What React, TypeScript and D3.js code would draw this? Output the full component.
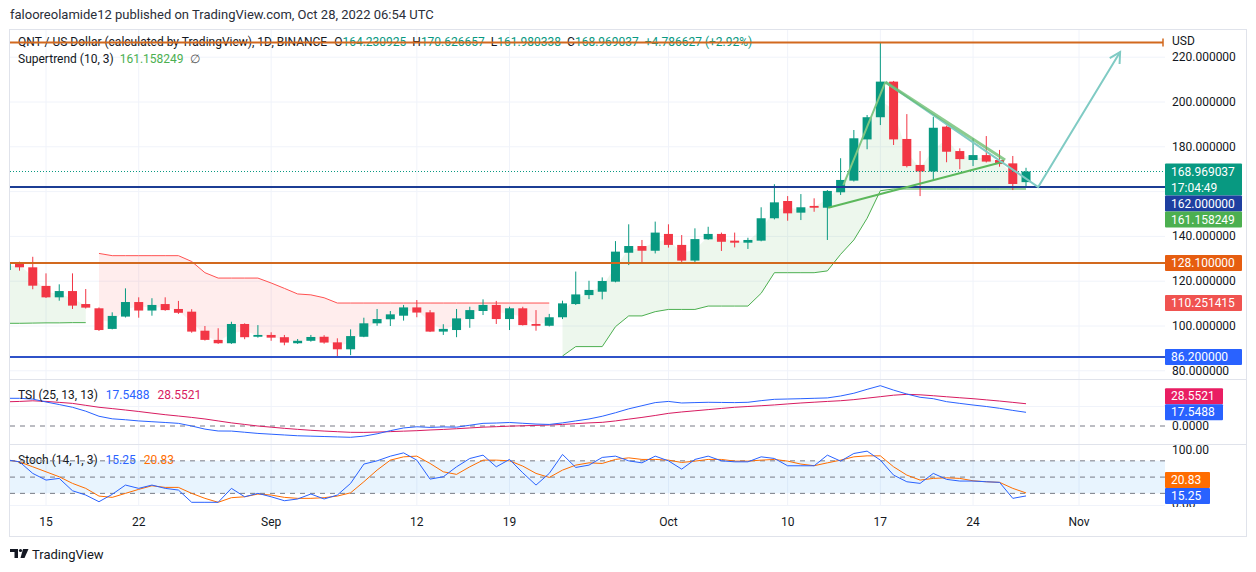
import React from "react";
import * as d3 from "d3";

// ---------- DATA ----------
const firstDay = "2022-08-12";
const lastDay = "2022-10-28";

const opens = [125, 128, 126.2, 117.9, 112.8, 115.6, 109.8, 107.9, 98.7, 104.2, 110.7, 106.9, 109.8, 107.6, 106.4, 97.9, 93.8, 92.3, 100.9, 95.2,
  96, 95, 92.3, 93.4, 95.2, 92.7, 89.6, 95.2, 101.2, 103, 104.6, 108.3, 106.1, 97.5, 98.2, 103.1, 106.7, 109.4, 103.1, 107.9, 100.9, 100.1, 103.9, 109.8, 113.8, 115.3, 119.8, 132.7, 135.7, 133.6,
  141.1, 136.2, 129.2, 138.7, 141.1, 138.1, 137.2, 138.1, 148.1, 155.8, 150.6, 153.6, 152.8, 159.7, 164.9, 183.3, 193.2, 209.1, 183.5, 171.9, 169, 189, 178.1, 174.1, 176.3, 174.1, 172.6, 164.230925];
const highs = [128.5, 128.7, 130.9, 123.5, 118.6, 123.5, 116.5, 108.3, 106.1, 116.8, 112.8, 112.4, 112.8, 111.2, 107.5, 100, 99, 101.9, 101.2, 100.4,
  97.2, 96, 94.2, 96, 95.9, 94.5, 98.5, 103.7, 107.6, 106.7, 109.4, 111.6, 107.1, 100.8, 107.6, 108.6, 111.9, 111.2, 108.6, 108.6, 107.1, 105.4, 111.3, 124.3, 120.2, 121.7, 137.9, 145.4, 138.4, 146.6,
  145.4, 140.6, 143.6, 144.3, 141.7, 141.7, 139.4, 153, 163.3, 158, 158.9, 157, 160.7, 174.9, 187.5, 194.2, 226.5, 209.4, 194.6, 178.1, 193.4, 189.5, 179.3, 183.8, 184.8, 178.6, 175.9, 170.626657];
const lows = [124, 124.7, 116.4, 112.5, 111.3, 107.6, 107.8, 97.8, 98.5, 103.8, 103.7, 104.6, 106.8, 105.4, 97, 93.5, 92, 92, 94.1, 94.8,
  93.4, 91.4, 92, 93, 92.1, 86.6, 87, 95, 100.1, 100, 102.4, 103.9, 97.3, 96, 95, 99.2, 104.9, 100.9, 98.2, 100.2, 97.9, 99.8, 103.1, 109.4, 112, 111.9, 119.5, 127.2, 128, 132.4,
  135, 127.7, 128, 138.5, 133.5, 135.1, 134.4, 137.8, 147.6, 147, 147.3, 151, 138.4, 158.5, 164.5, 178.9, 189.7, 180.8, 170.8, 158, 164.9, 173.1, 170, 171.4, 173, 171.1, 160.7, 161.980338];
const closes = [128, 126.2, 118, 112.8, 115.6, 109.1, 108.2, 98.2, 104.5, 110.7, 106.9, 109.4, 107.1, 105.9, 97.5, 93.8, 92.3, 100.9, 95, 96,
  94.8, 92.6, 93.4, 95.1, 92.6, 89.6, 95.5, 101.2, 103.1, 105.2, 108.3, 106, 97.5, 98.7, 103.4, 107.1, 109.4, 103.1, 107.9, 100.4, 100.1, 103.9, 110.1, 114.1, 116.1, 120.1, 133.2, 135.7, 133.6, 141.7,
  136.2, 129.2, 138.8, 141.1, 137.6, 137.2, 138.4, 148.1, 155.2, 150.3, 153, 152.8, 160.3, 165.2, 183.8, 193.2, 209.1, 183.3, 171.4, 169, 188.5, 177.8, 174.5, 176.3, 173.4, 172.3, 163.4, 168.969037];
const dayChange = 4.786627;
const dayChangePct = 2.92;

const N = null;
const supertrendUp = [101.2, 101.2, 101.3, 101.4, 101.4, 101.5, 101.5, N, N, N, N, N, N, N, N, N, N, N, N, N,
  N, N, N, N, N, N, N, N, N, N, N, N, N, N, N, N, N, N, N, N, N, N, 86.6, 90.8, 90.8, 90.8, 99.7, 104.5, 104.5, 106.4,
  107.4, 107.4, 107.4, 108.9, 108.9, 108.9, 108.9, 114.6, 123.8, 123.8, 123.8, 123.8, 124.6, 132, 138.4, 148.1, 160.4, 161.158249, 161.158249, 161.158249, 161.158249, 161.158249, 161.158249, 161.158249, 161.158249, 161.158249, 161.158249, 161.158249];
const supertrendDown = [N, N, N, N, N, N, N, 132.4, 131.4, 131.4, 131.4, 131.4, 131.4, 131.4, 128.8, 123.8, 121.4, 121.4, 121.4, 121.4,
  119.2, 116.8, 114.3, 113.9, 112.6, 110.251415, 110.251415, 110.251415, 110.251415, 110.251415, 110.251415, 110.251415, 110.251415, 110.251415, 110.251415, 110.251415, 110.251415, 110.251415, 110.251415, 110.251415, 110.251415, 110.251415, N, N, N, N, N, N, N, N,
  N, N, N, N, N, N, N, N, N, N, N, N, N, N, N, N, N, N, N, N, N, N, N, N, N, N, N, N];

const tsiLine = [35.5, 35.5, 34.5, 30.8, 27.5, 24, 19, 12.5, 9.2, 8, 6.5, 5.5, 4.5, 3.4, 0, -4, -6.4, -6.5, -8, -9.5,
  -10.5, -11.5, -12.5, -13, -13.5, -14, -14.5, -13, -10, -6, -2.5, -1, -1.8, -1.2, -1.5, 1, 3.4, 3.8, 4.5, 3.5, 2.5, 2, 4, 6.5, 9, 12.5, 17, 22, 26, 30,
  31.5, 29.5, 30, 30.4, 30.2, 30, 30.4, 32.5, 34.2, 34.6, 35, 35.5, 36, 38.5, 42, 47, 51.7, 46, 41, 36.8, 35, 31.2, 29, 26.9, 25, 22.7, 20, 17.5488];
const tsiSignal = [31, 31.5, 32.3, 31.5, 30.3, 29, 26.5, 24, 22.3, 20.5, 18.6, 16.5, 14.5, 12.8, 11, 9, 6.5, 4, 2, 0,
  -1.5, -3, -4.3, -5.5, -6.5, -7.3, -8.1, -8.2, -7.8, -7.2, -6.6, -6, -5.1, -4.4, -3.5, -2.5, -1.5, -0.9, -0.2, 0.3, 0.8, 1.3, 2, 3, 4, 4.7, 6.5, 8.8, 11, 13.5,
  16.2, 18, 19.5, 21, 22.5, 24, 25, 26, 27, 28.3, 29.5, 30.5, 31.5, 32.4, 33.8, 35.7, 37.6, 39.5, 40.6, 40, 38.8, 37.5, 36.2, 35, 33.5, 32, 30.3, 28.5521];

const stochK = [82, 78.2, 56.8, 44.5, 47.6, 24.8, 16.9, 4.6, 18.2, 35.3, 29.2, 35.3, 29.2, 26.1, 3.5, 3.5, 3.5, 29.2, 13.7, 20,
  13.7, 6.4, 9.6, 18.8, 9.6, 16.9, 38.4, 74, 80, 88.6, 94.7, 81.3, 46.3, 50.6, 69, 84.3, 90.5, 69, 82.6, 57.9, 35.3, 56.8, 91.8, 67.8, 72.1, 86.3, 88.7, 80, 76.3, 88.7,
  80, 64.7, 82.6, 88.7, 80, 78.2, 78.2, 87.4, 84.4, 70.9, 70.9, 70.9, 90.5, 79.5, 93.6, 97.9, 81.3, 53.7, 41.4, 38.4, 56.8, 45.8, 42.7, 42.7, 41.4, 40.3, 10.8, 15.25];
const stochD = [82, 78, 69, 59.8, 50.6, 38.4, 29.2, 15, 12.6, 20, 27.4, 34, 31, 31, 20, 10.8, 3.5, 12, 13.7, 18.7,
  16.9, 12.6, 10.8, 10.8, 12, 15, 21, 41.4, 62.9, 81.3, 87.4, 88.7, 75.2, 59.8, 55, 69, 81.3, 81.3, 80, 70.3, 56.8, 49.4, 62.9, 72.1, 76.3, 75.2, 82.6, 85.5, 82.6, 82.6,
  81.3, 77, 79.5, 82.6, 82.6, 79.5, 79.5, 81.3, 82.6, 79.5, 74, 71, 76.3, 81.3, 87.4, 89.2, 89.2, 69, 53.7, 44.5, 47.6, 48.7, 47.6, 43.2, 41.4, 40.3, 29.2, 20.83];

const priceTicks = [220, 200, 180, 140, 120, 100, 80];
const priceGrid = [220, 200, 180, 160, 140, 120, 100, 80];
const timeTickDates = ["2022-08-15", "2022-08-22", "2022-09-01", "2022-09-12", "2022-09-19", "2022-10-01", "2022-10-10", "2022-10-17", "2022-10-24", "2022-11-01"];
const timeTickLabels = ["15", "22", "Sep", "12", "19", "Oct", "10", "17", "24", "Nov"];

const peakLevel = 226.6;
const resistanceLevel = 128.1;
const supportHigh = 162;
const supportLow = 86.2;

// drawings (time, price)
const poleLine = [["2022-10-14T05:00:00Z", 162.9], ["2022-10-17T09:00:00Z", 208.9]];
const upperTrend = [["2022-10-17T09:00:00Z", 208.9], ["2022-10-26T10:00:00Z", 174.1]];
const lowerTrend = [["2022-10-13T01:30:00Z", 152.8], ["2022-10-26T07:00:00Z", 173.3]];
const forecastArrow = [["2022-10-17T09:00:00Z", 208.9], ["2022-10-28T22:00:00Z", 162.05], ["2022-11-04T02:30:00Z", 222.3]];

// ---------- STYLE ----------
const FONT = "Roboto, 'Liberation Sans', Arial, sans-serif";
const UP = "#089981";
const DOWN = "#f23645";
const TEXT = "#131722";
const GRID = "#f0f3fa";
const BORDER = "#e0e3eb";

const PL = 10, PR = 1165;
const MAIN = { top: 30, bottom: 379 };
const TSIP = { top: 380, bottom: 444 };
const STOP = { top: 445, bottom: 505 };

type Lbl = { v: number; y: number; h: number; text: string[]; bg: string; w: number; prio?: boolean };

function place(labels: Lbl[]) {
  const sorted = [...labels].sort((a, b) => a.y - b.y);
  const tops = sorted.map((l) => l.y - 8);
  let p = sorted.findIndex((l) => l.prio);
  if (p < 0) p = 0;
  for (let i = p + 1; i < sorted.length; i++) {
    tops[i] = Math.max(tops[i], tops[i - 1] + sorted[i - 1].h);
  }
  for (let i = p - 1; i >= 0; i--) {
    tops[i] = Math.min(tops[i], tops[i + 1] - sorted[i].h);
  }
  return sorted.map((l, i) => ({ ...l, top: tops[i] }));
}

export default function App() {
  const dates = d3.utcDay.range(new Date(firstDay + "T00:00:00Z"), d3.utcDay.offset(new Date(lastDay + "T00:00:00Z"), 1));
  const x = d3.scaleUtc()
    .domain([new Date("2022-08-15T00:00:00Z"), new Date("2022-11-01T00:00:00Z")])
    .range([46, 1079]);
  const y = d3.scaleLinear().domain([100, 200]).range([326, 102]);
  const yT = d3.scaleLinear().domain([0, 50]).range([426, 387]);
  const yS = d3.scaleLinear().domain([0, 100]).range([504.2, 450]);

  const bodyW = 9;
  const mid = dates.map((_, i) => (opens[i] + closes[i]) / 2);

  const stArea = (arr: (number | null)[]) =>
    d3.area<number>()
      .defined((i) => arr[i] != null)
      .x((i) => x(dates[i]))
      .y0((i) => y(arr[i] as number))
      .y1((i) => y(mid[i]))(dates.map((_, i) => i)) || "";
  const stLine = (arr: (number | null)[]) =>
    d3.line<number>()
      .defined((i) => arr[i] != null)
      .x((i) => x(dates[i]))
      .y((i) => y(arr[i] as number))(dates.map((_, i) => i)) || "";
  const seriesLine = (arr: number[], sc: d3.ScaleLinear<number, number>) =>
    d3.line<number>().x((i) => x(dates[i])).y((i) => sc(arr[i]))(dates.map((_, i) => i)) || "";
  const drawLine = (pts: (string | number)[][]) =>
    d3.line<(string | number)[]>().x((p) => x(new Date(p[0] as string))).y((p) => y(p[1] as number))(pts) || "";

  const last = closes.length - 1;
  const lastUp = supertrendUp[last] as number;
  const lastDown = [...supertrendDown].reverse().find((v) => v != null) as number;

  const mainLabels = place([
    { v: closes[last], y: y(closes[last]), h: 32, text: [closes[last].toFixed(6), "17:04:49"], bg: UP, w: 77, prio: true },
    { v: supportHigh, y: y(supportHigh), h: 16, text: [supportHigh.toFixed(6)], bg: "#1e3fa0", w: 77 },
    { v: lastUp, y: y(lastUp), h: 16, text: [lastUp.toFixed(6)], bg: "#4caf50", w: 77 },
  ]).concat(place([{ v: resistanceLevel, y: y(resistanceLevel), h: 16, text: [resistanceLevel.toFixed(6)], bg: "#e65d10", w: 77, prio: true }]))
    .concat(place([{ v: lastDown, y: y(lastDown), h: 16, text: [lastDown.toFixed(6)], bg: "#f05350", w: 77, prio: true }]))
    .concat(place([{ v: supportLow, y: y(supportLow), h: 16, text: [supportLow.toFixed(6)], bg: "#2962ff", w: 77, prio: true }]));
  const tsiLabels = place([
    { v: tsiLine[last], y: yT(tsiLine[last]), h: 16, text: [tsiLine[last].toFixed(4)], bg: "#2962ff", w: 58, prio: true },
    { v: tsiSignal[last], y: yT(tsiSignal[last]), h: 16, text: [tsiSignal[last].toFixed(4)], bg: "#e91e63", w: 58 },
  ]);
  const stoLabels = place([
    { v: stochK[last], y: yS(stochK[last]), h: 16, text: [stochK[last].toFixed(2)], bg: "#2962ff", w: 45, prio: true },
    { v: stochD[last], y: yS(stochD[last]), h: 16, text: [stochD[last].toFixed(2)], bg: "#ff6d00", w: 45 },
  ]);
  const allLabels = [...mainLabels, ...tsiLabels, ...stoLabels];

  // arrowhead
  const tip = forecastArrow[forecastArrow.length - 1];
  const prev = forecastArrow[forecastArrow.length - 2];
  const tx = x(new Date(tip[0] as string)), ty = y(tip[1] as number);
  const px = x(new Date(prev[0] as string)), py = y(prev[1] as number);
  const ang = Math.atan2(ty - py, tx - px);
  const ah = 12;
  const a1 = [tx - ah * Math.cos(ang - 0.5), ty - ah * Math.sin(ang - 0.5)];
  const a2 = [tx - ah * Math.cos(ang + 0.5), ty - ah * Math.sin(ang + 0.5)];

  const legendVal = "#089981";

  return (
    <svg width={1256} height={572} style={{ position: "absolute", left: 0, top: 0, background: "#fff" }} fontFamily={FONT}>
      <defs>
        <clipPath id="mainClip"><rect x={PL} y={MAIN.top} width={PR - PL} height={MAIN.bottom - MAIN.top} /></clipPath>
        <clipPath id="tsiClip"><rect x={PL} y={TSIP.top} width={PR - PL} height={TSIP.bottom - TSIP.top} /></clipPath>
        <clipPath id="stoClip"><rect x={PL} y={STOP.top} width={PR - PL} height={STOP.bottom - STOP.top} /></clipPath>
        <clipPath id="stoAxisClip"><rect x={PR} y={STOP.top} width={90} height={STOP.bottom - STOP.top + 2} /></clipPath>
      </defs>
      <rect x={0} y={0} width={1256} height={572} fill="#fff" />
      <text x={10} y={19} fontSize={13} fill="#2a2e39">falooreolamide12 published on TradingView.com, Oct 28, 2022 06:54 UTC</text>

      {/* frame */}
      <rect x={9.5} y={29.5} width={1237} height={507} fill="none" stroke={BORDER} />
      {/* vertical grid */}
      {timeTickDates.map((d) => (
        <line key={d} x1={x(new Date(d + "T00:00:00Z"))} x2={x(new Date(d + "T00:00:00Z"))} y1={MAIN.top} y2={STOP.bottom} stroke={GRID} />
      ))}
      {priceGrid.map((p) => <line key={p} x1={PL} x2={PR} y1={y(p)} y2={y(p)} stroke={GRID} />)}
      <line x1={PL} x2={PR} y1={yT(25)} y2={yT(25)} stroke={GRID} />
      <line x1={PL} x2={1246} y1={MAIN.bottom + 0.5} y2={MAIN.bottom + 0.5} stroke={BORDER} />
      <line x1={PL} x2={1246} y1={TSIP.bottom + 0.5} y2={TSIP.bottom + 0.5} stroke={BORDER} />
      <line x1={PL} x2={PR} y1={STOP.bottom + 0.5} y2={STOP.bottom + 0.5} stroke={GRID} />

      {/* main pane */}
      <g clipPath="url(#mainClip)">
        <path d={stArea(supertrendUp)} fill="rgba(76,175,80,0.1)" />
        <path d={stArea(supertrendDown)} fill="rgba(255,82,82,0.1)" />
        <path d={stLine(supertrendUp)} fill="none" stroke="#4caf50" strokeWidth={1} />
        <path d={stLine(supertrendDown)} fill="none" stroke="#ff5252" strokeWidth={1} />
        {dates.map((d, i) => {
          const cx = x(d);
          const up = closes[i] >= opens[i];
          const c = up ? UP : DOWN;
          const top = y(Math.max(opens[i], closes[i]));
          const bot = y(Math.min(opens[i], closes[i]));
          return (
            <g key={i}>
              <line x1={cx} x2={cx} y1={y(highs[i])} y2={y(lows[i])} stroke={c} strokeWidth={1} />
              <rect x={cx - bodyW / 2} y={top} width={bodyW} height={Math.max(1, bot - top)} fill={c} />
            </g>
          );
        })}
        <line x1={PL} x2={PR} y1={y(closes[last])} y2={y(closes[last])} stroke={UP} strokeDasharray="1 2" />
      </g>

      {/* legends */}
      <text x={18} y={46} fontSize={12} fill={TEXT}>
        <tspan>QNT / US Dollar (calculated by TradingView), 1D, BINANCE</tspan>
        <tspan dx={7}>O</tspan><tspan fill={legendVal}>{opens[last].toFixed(6)}</tspan>
        <tspan dx={6}>H</tspan><tspan fill={legendVal}>{highs[last].toFixed(6)}</tspan>
        <tspan dx={6}>L</tspan><tspan fill={legendVal}>{lows[last].toFixed(6)}</tspan>
        <tspan dx={6}>C</tspan><tspan fill={legendVal}>{closes[last].toFixed(6)}</tspan>
        <tspan dx={6} fill={legendVal}>{"+" + dayChange.toFixed(6) + " (+" + dayChangePct.toFixed(2) + "%)"}</tspan>
      </text>
      <text x={18} y={63} fontSize={12} fill={TEXT}>
        <tspan>Supertrend (10, 3)</tspan>
        <tspan dx={6} fill="#4caf50">{lastUp.toFixed(6)}</tspan>
        <tspan dx={6} fill="#555">∅</tspan>
      </text>

      {/* drawings */}
      <g clipPath="url(#mainClip)">
        <line x1={PL} x2={PR - 2} y1={y(peakLevel)} y2={y(peakLevel)} stroke="#d2691e" strokeWidth={2} />
        <line x1={PR - 2} x2={PR - 2} y1={y(peakLevel) - 4} y2={y(peakLevel) + 4} stroke="#d2691e" strokeWidth={1.5} />
        <line x1={PL} x2={PR} y1={y(resistanceLevel)} y2={y(resistanceLevel)} stroke="#d2691e" strokeWidth={2} />
        <line x1={PL} x2={PR} y1={y(supportHigh)} y2={y(supportHigh)} stroke="#1c3d94" strokeWidth={2} />
        <line x1={PL} x2={PR} y1={y(supportLow)} y2={y(supportLow)} stroke="#2f52c8" strokeWidth={2} />
        <path d={drawLine(poleLine)} fill="none" stroke="#81c784" strokeWidth={2} />
        <path d={drawLine(lowerTrend)} fill="none" stroke="#5cb85c" strokeWidth={2} />
        <path d={drawLine(forecastArrow)} fill="none" stroke="#80cbc4" strokeWidth={2} />
        <path d={drawLine(upperTrend)} fill="none" stroke="rgba(102,187,106,0.75)" strokeWidth={3} />
        <path d={`M${a1[0]},${a1[1]}L${tx},${ty}L${a2[0]},${a2[1]}`} fill="none" stroke="#80cbc4" strokeWidth={2} />
      </g>

      {/* TSI pane */}
      <g clipPath="url(#tsiClip)">
        <line x1={PL} x2={PR} y1={yT(0)} y2={yT(0)} stroke="#787b86" strokeDasharray="5 5" />
        <path d={seriesLine(tsiSignal, yT)} fill="none" stroke="#d81b60" strokeWidth={1} />
        <path d={seriesLine(tsiLine, yT)} fill="none" stroke="#2962ff" strokeWidth={1} />
      </g>
      <text x={18} y={399} fontSize={12} fill={TEXT}>
        <tspan>TSI (25, 13, 13)</tspan>
        <tspan dx={8} fill="#2962ff">{tsiLine[last].toFixed(4)}</tspan>
        <tspan dx={8} fill="#d81b60">{tsiSignal[last].toFixed(4)}</tspan>
      </text>

      {/* Stoch pane */}
      <g clipPath="url(#stoClip)">
        <rect x={PL} y={yS(80)} width={PR - PL} height={yS(20) - yS(80)} fill="rgba(33,150,243,0.1)" />
        <text x={18} y={464} fontSize={12} fill={TEXT}>
          <tspan>Stoch (14, 1, 3)</tspan>
          <tspan dx={8} fill="#2962ff">{stochK[last].toFixed(2)}</tspan>
          <tspan dx={8} fill="#ff6d00">{stochD[last].toFixed(2)}</tspan>
        </text>
        {[80, 50, 20].map((v) => (
          <line key={v} x1={PL} x2={PR} y1={yS(v)} y2={yS(v)} stroke="#787b86" strokeDasharray="5 5" />
        ))}
        <path d={seriesLine(stochD, yS)} fill="none" stroke="#ff6d00" strokeWidth={1} />
        <path d={seriesLine(stochK, yS)} fill="none" stroke="#2962ff" strokeWidth={1} />
      </g>

      {/* price axis */}
      <text x={1172} y={45} fontSize={12} fill={TEXT}>USD</text>
      {priceTicks.map((p) => (
        <text key={p} x={1172} y={y(p) + 4} fontSize={12} fill={TEXT}>{p.toFixed(6)}</text>
      ))}
      <text x={1172} y={yT(0) + 4} fontSize={12} fill={TEXT}>{(0).toFixed(4)}</text>
      <text x={1172} y={yS(100) + 4} fontSize={12} fill={TEXT}>{(100).toFixed(2)}</text>
      <g clipPath="url(#stoAxisClip)">
        <text x={1172} y={yS(0) + 4} fontSize={12} fill={TEXT}>{(0).toFixed(2)}</text>
      </g>
      {allLabels.map((l, i) => (
        <g key={i}>
          <rect x={1165} y={l.top} width={l.w} height={l.h} fill={l.bg} rx={1} />
          {l.text.map((t, j) => (
            <text key={j} x={1171} y={l.top + 12 + j * 16} fontSize={12} fill="#fff">{t}</text>
          ))}
        </g>
      ))}

      {/* time axis */}
      {timeTickDates.map((d, i) => (
        <text key={d} x={x(new Date(d + "T00:00:00Z"))} y={526} fontSize={12} fill={TEXT} textAnchor="middle">{timeTickLabels[i]}</text>
      ))}

      {/* watermark */}
      <g fill={TEXT}>
        <path d="M10,549 H18 V558 H14.5 V552 H10 Z" />
        <circle cx={20.5} cy={550.5} r={1.6} />
        <path d="M23,549 H28.5 L24.5,558 H20.5 Z" />
      </g>
      <text x={32} y={558.5} fontSize={13} fill={TEXT}>TradingView</text>
    </svg>
  );
}
